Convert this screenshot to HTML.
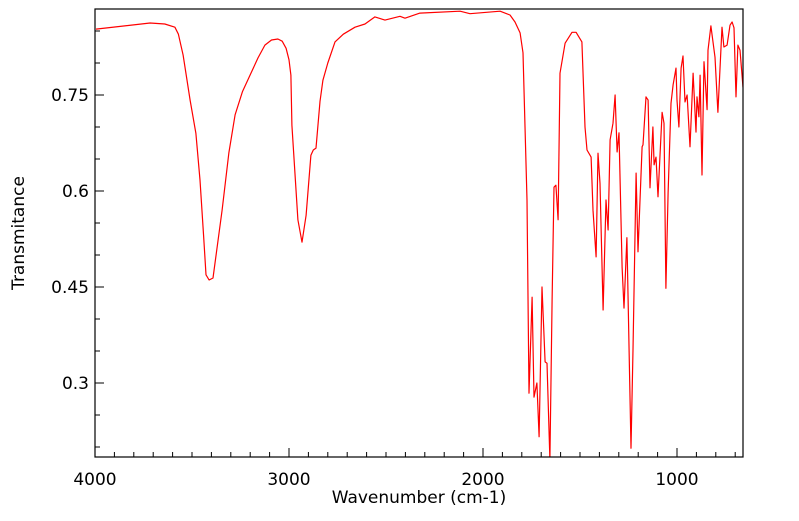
<!DOCTYPE html>
<html><head><meta charset="utf-8"><style>
body{margin:0;background:#fff;}
svg text{font-family:"DejaVu Sans","Liberation Sans",sans-serif;fill:#000;}
</style></head><body>
<svg id="chart" width="799" height="516" xmlns="http://www.w3.org/2000/svg">
<g id="plot"></g>
</svg>
<script>
const wavenumbers=[3995,3716,3640,3588,3570,3546,3510,3480,3459,3440,3428,3412,3392,3345,3310,3278,3240,3201,3160,3124,3090,3057,3035,3015,3000,2990,2985,2954,2933,2912,2887,2875,2861,2840,2825,2800,2763,2720,2660,2608,2557,2505,2428,2402,2325,2118,2067,1912,1861,1835,1809,1794,1773,1763,1747,1737,1722,1711,1696,1680,1670,1655,1644,1634,1624,1613,1603,1577,1541,1520,1490,1474,1464,1443,1433,1417,1407,1397,1381,1366,1355,1345,1330,1319,1309,1299,1283,1273,1258,1237,1227,1211,1201,1180,1175,1160,1149,1139,1124,1118,1108,1098,1077,1067,1057,1046,1031,1020,1005,1000,990,979,969,959,948,933,917,902,897,887,881,871,861,845,840,825,804,789,768,758,742,727,716,706,696,686,675,660];
const transmittance=[0.853,0.8625,0.861,0.856,0.845,0.8125,0.742,0.69,0.617,0.53,0.469,0.461,0.464,0.570,0.66,0.719,0.755,0.781,0.808,0.828,0.836,0.8375,0.834,0.823,0.805,0.781,0.703,0.555,0.520,0.562,0.656,0.664,0.667,0.74,0.773,0.80,0.833,0.845,0.856,0.861,0.872,0.867,0.873,0.870,0.878,0.881,0.877,0.881,0.875,0.864,0.847,0.816,0.586,0.284,0.434,0.278,0.30,0.216,0.45,0.333,0.331,0.18,0.430,0.606,0.609,0.555,0.784,0.831,0.848,0.848,0.833,0.70,0.664,0.653,0.570,0.497,0.659,0.612,0.414,0.586,0.539,0.680,0.706,0.75,0.661,0.691,0.481,0.417,0.527,0.198,0.352,0.628,0.505,0.669,0.672,0.747,0.742,0.605,0.70,0.641,0.653,0.591,0.723,0.706,0.448,0.597,0.737,0.766,0.792,0.742,0.70,0.792,0.811,0.739,0.75,0.669,0.784,0.692,0.747,0.716,0.781,0.625,0.802,0.727,0.820,0.858,0.809,0.723,0.856,0.825,0.828,0.859,0.864,0.855,0.747,0.828,0.820,0.762];
const xTicks=[4000,3000,2000,1000];
const xTickLabels=["4000","3000","2000","1000"];
const yTicks=[0.3,0.45,0.6,0.75];
const yTickLabels=["0.3","0.45","0.6","0.75"];

const L=95,R=743,T=9,B=457;
const xMax=4000,xMin=4000-(R-L)/0.194;
const yTop=0.75+(95-T)/640,yBot=0.3-(B-383)/640;
const sx=w=>L+(xMax-w)/(xMax-xMin)*(R-L);
const sy=v=>T+(yTop-v)/(yTop-yBot)*(B-T);
const NS="http://www.w3.org/2000/svg";
const svg=document.getElementById('chart');
const g=document.getElementById('plot');
function mk(tag,attrs){const e=document.createElementNS(NS,tag);for(const k in attrs)e.setAttribute(k,attrs[k]);return e;}

const cp=mk('clipPath',{id:'clip'});cp.appendChild(mk('rect',{x:L,y:T,width:R-L,height:B-T}));svg.appendChild(cp);

let d='';wavenumbers.forEach((w,i)=>{d+=(i?'L':'M')+sx(w).toFixed(1)+','+sy(transmittance[i]).toFixed(1);});
const line=mk('path',{d:d,fill:'none',stroke:'#ff0000','stroke-width':1.2,'stroke-linejoin':'round','clip-path':'url(#clip)'});


g.appendChild(line);

const frame=mk('rect',{x:L,y:T,width:R-L,height:B-T,fill:'none',stroke:'#000','stroke-width':1.2});


g.appendChild(frame);

for(let w=4000;w>=xMin;w-=100){
  const major=w%1000===0;const x=sx(w);
  const t=mk('line',{x1:x,x2:x,y1:B,y2:B-(major?9:5),stroke:'#000','stroke-width':1});
  
  
  g.appendChild(t);
}
xTicks.forEach((w,i)=>{
  const t=mk('text',{x:sx(w),y:485,'text-anchor':'middle','font-size':17});
  t.textContent=xTickLabels[i];
  
  
  g.appendChild(t);
});
for(let k=0;k<20;k++){
  const v=0.2+k*0.05;const y=sy(v);if(y<T+1||y>B-1)continue;
  const major=yTicks.some(m=>Math.abs(m-v)<1e-6);
  const t=mk('line',{x1:L,x2:L+(major?9:5),y1:y,y2:y,stroke:'#000','stroke-width':1});
  
  
  g.appendChild(t);
}
yTicks.forEach((v,i)=>{
  const t=mk('text',{x:89,y:sy(v)+6,'text-anchor':'end','font-size':17});
  t.textContent=yTickLabels[i];
  
  
  g.appendChild(t);
});
const xt=mk('text',{x:419,y:503,'text-anchor':'middle','font-size':17});
xt.textContent='Wavenumber (cm-1)';


g.appendChild(xt);
const yt=mk('text',{x:0,y:0,'text-anchor':'middle','font-size':17,transform:'translate(24,233) rotate(-90)'});
yt.textContent='Transmitance';


g.appendChild(yt);
</script>
</body></html>
